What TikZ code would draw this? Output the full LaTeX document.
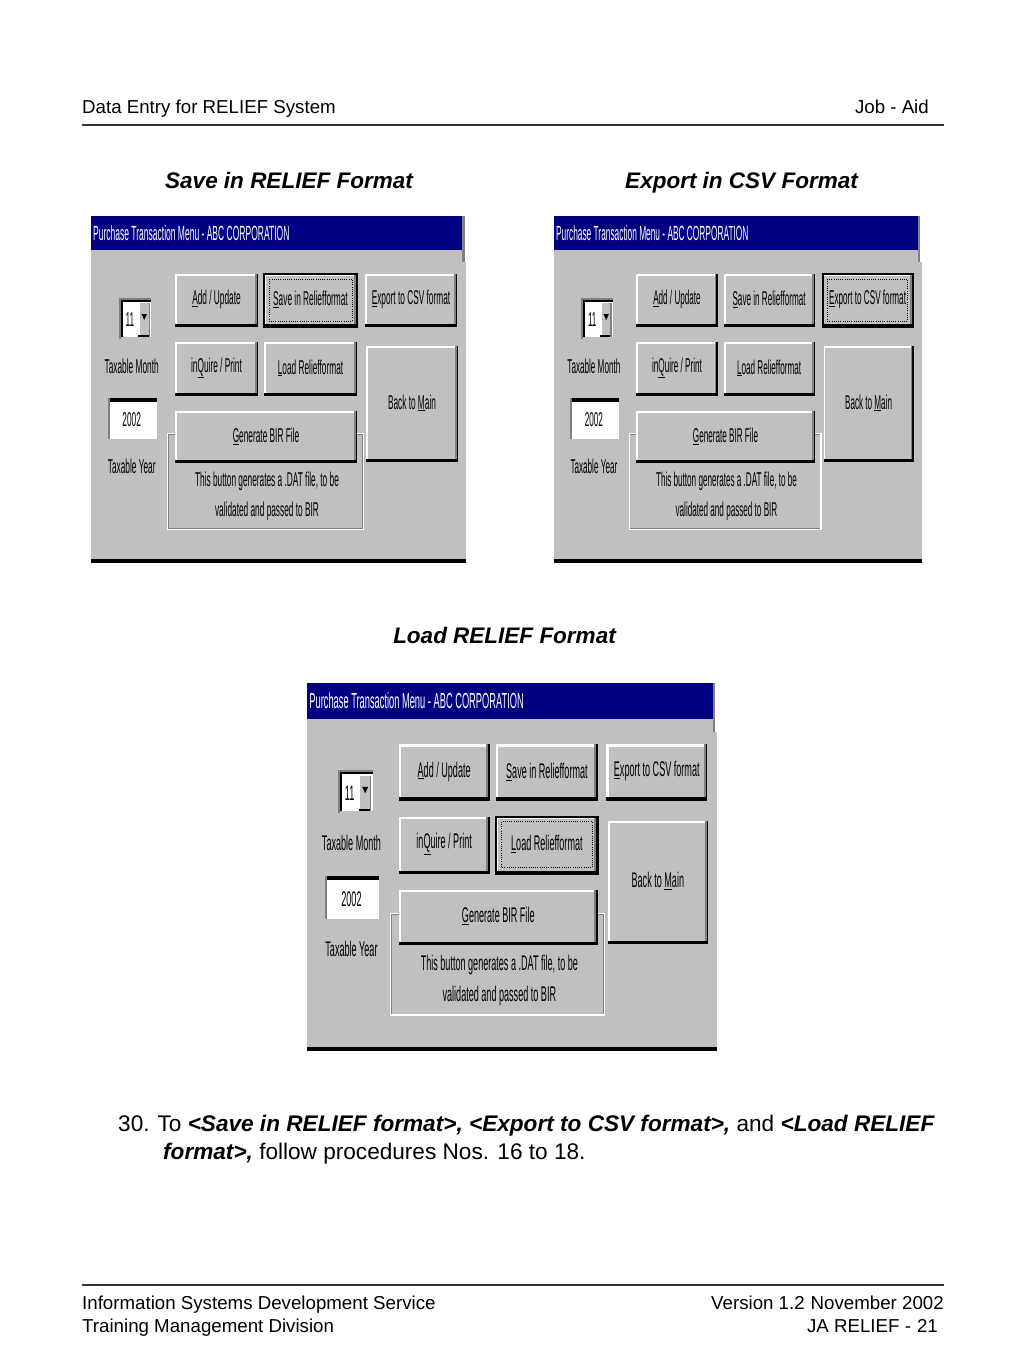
\documentclass[tikz,border=0pt]{standalone}
\usepackage{fontspec}
\setmainfont{Liberation Sans}
\newfontfamily\winfont[FakeStretch=0.415]{Liberation Sans}
\definecolor{winnavy}{HTML}{000080}
\definecolor{wingray}{HTML}{C0C0C0}
\definecolor{windark}{HTML}{808080}
\definecolor{rulegray}{HTML}{333333}
\tikzset{
 pagetxt/.style={inner sep=0pt, font=\fontsize{18.7}{22}\selectfont},
 headtxt/.style={inner sep=0pt, font=\fontsize{22.5}{26}\selectfont\bfseries\itshape},
 bodytxt/.style={inner sep=0pt, font=\fontsize{22.6}{28}\selectfont},
 wintxt/.style={inner sep=0pt, font=\fontsize{20}{22}\winfont},
 titletxt/.style={inner sep=0pt, text=white, font=\fontsize{20.5}{22}\winfont},
 pagerule/.style={draw=rulegray, line width=1.5pt},
}
\newcommand\wbtn[7]{%
 \fill[wingray] (#2,#3) rectangle +(#4,#5);
 \fill[white] (#2,#3) rectangle +(#4,2);
 \fill[white] (#2,#3) rectangle +(2,#5);
 \fill[windark] (#2,#3) ++(#4,0) rectangle +(-3,#5);
 \fill[black] (#2,#3) ++(#4,0) rectangle +(-1.2,#5);
 \fill[black] (#2,#3) ++(0,#5) rectangle +(#4,-3);
 \ifnum#7=1
  \draw[black,line width=2pt] (#2,#3) rectangle +(#4,#5);
  \draw[black,line width=0.9pt,dash pattern=on 1pt off 1.2pt] (#2,#3) ++(5,5) rectangle +(#4-10,#5-11);
 \fi
 \node[wintxt] (#1) at (#2+#4/2,#3+#5/2-1) {#6};
}
\newcommand\winshot[8]{%
\begin{scope}[shift={(#2,#3)},xscale=#4,yscale=#5,every node/.append style={transform shape}]
 \fill[wingray] (0,34) rectangle (371,46);
 \fill[wingray] (0,46) rectangle (375,344);
 \fill[winnavy] (0,0) rectangle (371,34);
 \fill[windark] (371,0) rectangle (373.5,46);
 \fill[black] (0,343) rectangle (375,347);
 \node[titletxt,anchor=west] (#1title) at (2,17) {Purchase Transaction Menu - ABC CORPORATION};
 % month combo
 \fill[white] (28,82) rectangle (60,123);
 \fill[windark] (28,82) rectangle (60,84);
 \fill[windark] (28,82) rectangle (30,123);
 \fill[black] (30,84) rectangle (60,86);
 \fill[black] (30,84) rectangle (32,121);
 \fill[wingray] (30,121) rectangle (60,123);
 \fill[wingray] (47.3,87.3) rectangle (59,120.7);
 \fill[white] (47.3,87.3) rectangle (48.5,120.7);
 \fill[black] (47.3,119) rectangle (59,120.7);
 \fill[windark] (57.5,87.3) rectangle (59,120.7);
 \fill[black] (50.5,98) -- (56,98) -- (53.25,104) -- cycle;
 \node[wintxt] (#1month) at (39,104) {11};
 \node[wintxt] (#1monthlbl) at (40.7,150.7) {Taxable Month};
 % year box
 \fill[white] (16.7,182.3) rectangle (66.3,224);
 \fill[black] (16.7,182.3) rectangle (66.3,186);
 \fill[windark] (16.7,182.3) rectangle (18.5,224);
 \fill[wingray] (16.7,222.5) rectangle (66.3,224);
 \node[wintxt] (#1year) at (40.7,204) {2002};
 \node[wintxt] (#1yearlbl) at (40.7,250.7) {Taxable Year};
 % group frame
 \draw[windark,line width=1pt] (77.5,218) rectangle (271.5,312.5);
 \draw[white,line width=1.3pt] (76.7,217.3) rectangle (272.3,313.3);
 \node[wintxt] (#1desc1) at (176,265.7) {This button generates a .DAT file, to be};
 \node[wintxt] (#1desc2) at (176,295.7) {validated and passed to BIR};
 % buttons
 \wbtn{#1add}{84}{58}{83}{53}{\underline{A}dd / Update}{0}
 \wbtn{#1save}{173}{58}{93}{53}{\underline{S}ave in Reliefformat}{#6}
 \wbtn{#1export}{274}{58}{92}{53}{\underline{E}xport to CSV format}{#7}
 \wbtn{#1inquire}{84}{126}{83}{54}{in\underline{Q}uire / Print}{0}
 \wbtn{#1load}{173}{126}{93}{54}{\underline{L}oad Reliefformat}{#8}
 \wbtn{#1back}{275}{130}{92}{116}{Back to \underline{M}ain}{0}
 \wbtn{#1gen}{84}{195}{182}{52}{\underline{G}enerate BIR File}{0}
\end{scope}}
\begin{document}
\begin{tikzpicture}[x=1pt,y=-1pt]
\fill[white] (0,0) rectangle (1024,1365);
\useasboundingbox (0,0) rectangle (1024,1365);
% header
\node[pagetxt,anchor=base west] (hdl) at (82,113.5) {Data Entry for RELIEF System};
\node[pagetxt,anchor=base east] (hdr) at (929,113.5) {Job - Aid};
\coordinate (hl1) at (82,125);
\coordinate (hl2) at (944,125);
\draw[pagerule] (hl1) -- (hl2);
% headings
\node[headtxt,anchor=base] (h1) at (289,188) {Save in RELIEF Format};
\node[headtxt,anchor=base] (h2) at (741.5,188) {Export in CSV Format};
\node[headtxt,anchor=base] (h3) at (504.5,643) {Load RELIEF Format};
% windows
\winshot{wa}{91}{216}{1}{1}{1}{0}{0}
\winshot{wb}{554}{216}{0.98}{1}{0}{1}{0}
\winshot{wc}{307}{683}{1.093}{1.06}{0}{0}{1}
% item 30
\node[bodytxt,anchor=base west] (item1) at (118,1131) {30.\hspace{8pt}To \textbf{\textit{<Save in RELIEF format>, <Export to CSV format>,}} and \textbf{\textit{<Load RELIEF}}};
\node[bodytxt,anchor=base west] (item2) at (163,1159) {\textbf{\textit{format>,}} follow procedures Nos. 16 to 18.};
% footer
\coordinate (fl1) at (82,1285);
\coordinate (fl2) at (944,1285);
\draw[pagerule] (fl1) -- (fl2);
\node[pagetxt,anchor=base west] (f1) at (82,1309) {Information Systems Development Service};
\node[pagetxt,anchor=base west] (f2) at (82,1332) {Training Management Division};
\node[pagetxt,anchor=base east] (f3) at (944,1309) {Version 1.2\hspace{6pt}November 2002};
\node[pagetxt,anchor=base east] (f4) at (938,1332) {JA RELIEF -\hspace{6pt}21};
\end{tikzpicture}
\end{document}
